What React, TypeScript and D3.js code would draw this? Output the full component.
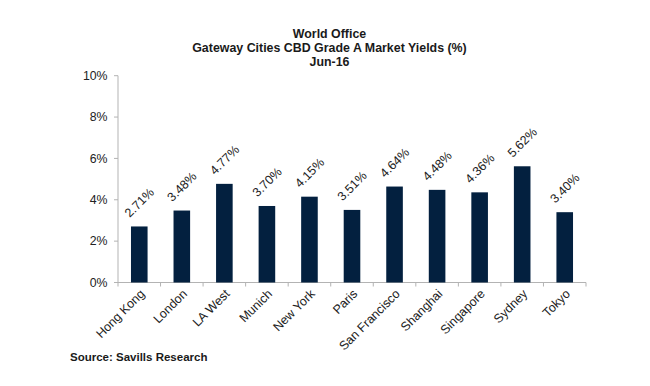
import React from "react";
import * as d3 from "d3";

const cities = ["Hong Kong", "London", "LA West", "Munich", "New York", "Paris", "San Francisco", "Shanghai", "Singapore", "Sydney", "Tokyo"];
const yields = [2.71, 3.48, 4.77, 3.7, 4.15, 3.51, 4.64, 4.48, 4.36, 5.62, 3.4];
const yTicks = [0, 2, 4, 6, 8, 10];
const titleLines = ["World Office", "Gateway Cities CBD Grade A Market Yields (%)", "Jun-16"];

export default function App() {
  const W = 650, H = 386;
  const left = 118, right = 586, top = 75.7, bottom = 282.5;
  const x = d3.scaleBand<string>().domain(cities).range([left, right]).paddingInner(0.61).paddingOuter(0.305);
  const y = d3.scaleLinear().domain([0, 10]).range([bottom, top]);
  const step = (right - left) / cities.length;
  const font = "'Liberation Sans', Arial, sans-serif";
  const axisColor = "#b3b3b3";
  return (
    <svg width={W} height={H} style={{ position: "absolute", left: 0, top: 0 }} fontFamily={font}>
      <rect width={W} height={H} fill="#fff" />
      {titleLines.map((t, i) => (
        <text key={i} x={329.5} y={37.5 + i * 14.2} textAnchor="middle" fontSize={12.4} fontWeight="bold" fill="#1a1a1a">{t}</text>
      ))}
      <line x1={left} x2={left} y1={top} y2={bottom} stroke={axisColor} />
      {yTicks.map((t) => (
        <g key={t}>
          <line x1={left - 4} x2={left} y1={y(t)} y2={y(t)} stroke={axisColor} />
          <text x={107.5} y={y(t)} dy="0.35em" textAnchor="end" fontSize={12.3} fill="#222">{t}%</text>
        </g>
      ))}
      <line x1={left} x2={right} y1={bottom} y2={bottom} stroke={axisColor} />
      {d3.range(cities.length + 1).map((i) => (
        <line key={i} x1={left + i * step} x2={left + i * step} y1={bottom} y2={bottom + 4} stroke={axisColor} />
      ))}
      {cities.map((c, i) => {
        const cx = (x(c) as number) + x.bandwidth() / 2;
        const v = yields[i];
        return (
          <g key={c}>
            <rect x={x(c)} y={y(v)} width={x.bandwidth()} height={bottom - y(v)} fill="#03203f" />
            <text transform={`translate(${cx},${y(v) - 24}) rotate(-45)`} textAnchor="middle" dy="0.35em" fontSize={12.5} fill="#222">{v.toFixed(2)}%</text>
            <text transform={`translate(${cx + 3},${bottom + 9}) rotate(-45)`} textAnchor="end" dy="0.35em" fontSize={12.5} fill="#222">{c}</text>
          </g>
        );
      })}
      <text x={70} y={360.5} fontSize={11.5} fontWeight="bold" fill="#1a1a1a">Source: Savills Research</text>
    </svg>
  );
}
